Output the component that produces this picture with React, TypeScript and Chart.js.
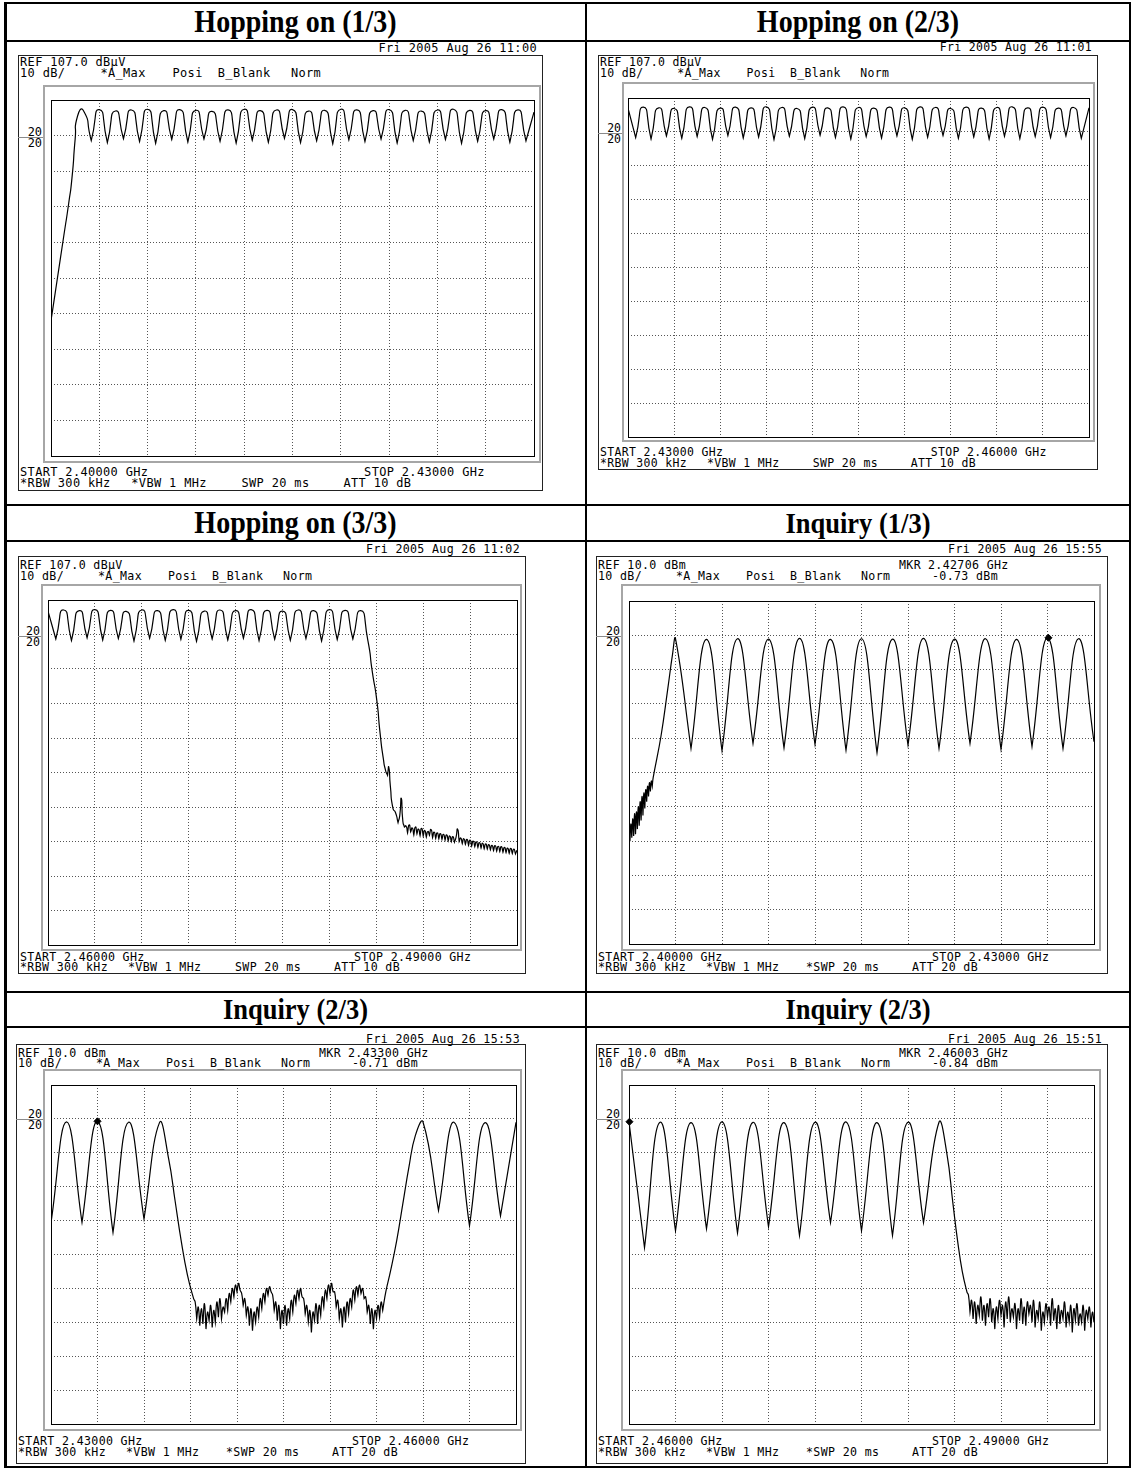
import React, { useEffect, useRef } from "react";
import { Chart, registerables } from "chart.js";

Chart.register(...registerables);

// ---------- Trace data: frequency (MHz) / level (dBµV or dBm) ----------

// Hopping on (1/3): 2.400 - 2.430 GHz, REF 107 dBµV
const hop1MHz = [
  2400, 2400.4, 2400.8, 2401.1, 2401.3, 2401.5, 2401.65,
  2402, 2402.5, 2403, 2403.5, 2404, 2404.5, 2405, 2405.5, 2406, 2406.5, 2407, 2407.5,
  2408, 2408.5, 2409, 2409.5, 2410, 2410.5, 2411, 2411.5, 2412, 2412.5, 2413, 2413.5,
  2414, 2414.5, 2415, 2415.5, 2416, 2416.5, 2417, 2417.5, 2418, 2418.5, 2419, 2419.5,
  2420, 2420.5, 2421, 2421.5, 2422, 2422.5, 2423, 2423.5, 2424, 2424.5, 2425, 2425.5,
  2426, 2426.5, 2427, 2427.5, 2428, 2428.5, 2429, 2429.5, 2430,
];
const hop1Level = [
  45, 57, 69, 78, 85, 96, 102.5,
  104.1, 95.6, 104.3, 95.0, 103.9, 96.1, 104.2, 95.3, 104.4, 94.8, 104.0, 95.9,
  104.3, 95.2, 104.1, 96.0, 103.8, 95.4, 104.2, 94.9, 104.4, 95.7, 104.0, 95.1,
  104.2, 96.2, 104.3, 95.0, 103.9, 95.5, 104.1, 94.7, 104.4, 95.8, 104.2, 95.3,
  104.0, 96.0, 104.3, 94.9, 104.1, 95.6, 103.9, 95.2, 104.2, 95.9, 104.4, 94.8,
  104.1, 95.4, 104.0, 96.0, 104.3, 95.1, 104.2, 95.5, 103.6,
];

// Hopping on (2/3): 2.430 - 2.460 GHz
const hop2MHz = [
  2430, 2430.5, 2431, 2431.5, 2432, 2432.5, 2433, 2433.5, 2434, 2434.5, 2435, 2435.5,
  2436, 2436.5, 2437, 2437.5, 2438, 2438.5, 2439, 2439.5, 2440, 2440.5, 2441, 2441.5,
  2442, 2442.5, 2443, 2443.5, 2444, 2444.5, 2445, 2445.5, 2446, 2446.5, 2447, 2447.5,
  2448, 2448.5, 2449, 2449.5, 2450, 2450.5, 2451, 2451.5, 2452, 2452.5, 2453, 2453.5,
  2454, 2454.5, 2455, 2455.5, 2456, 2456.5, 2457, 2457.5, 2458, 2458.5, 2459, 2459.5, 2460,
];
const hop2Level = [
  104.0, 95.3, 104.3, 94.9, 104.1, 95.8, 103.9, 95.1, 104.4, 95.6, 104.2, 94.8,
  104.0, 95.9, 104.3, 95.2, 104.1, 95.5, 104.4, 94.7, 104.2, 95.7, 103.9, 95.0,
  104.3, 96.0, 104.1, 95.3, 104.4, 94.9, 104.2, 95.6, 104.0, 95.2, 104.3, 95.8,
  104.1, 94.8, 104.4, 95.4, 104.2, 95.9, 103.9, 95.1, 104.3, 95.5, 104.0, 94.9,
  104.2, 95.7, 104.4, 95.0, 104.1, 95.6, 104.3, 95.3, 104.0, 95.8, 104.2, 95.1, 104.1,
];

// Hopping on (3/3): 2.460 - 2.490 GHz, band edge roll-off and noise tail
const hop3MHz = [
  2460, 2460.5, 2461, 2461.5, 2462, 2462.5, 2463, 2463.5, 2464, 2464.5, 2465, 2465.5,
  2466, 2466.5, 2467, 2467.5, 2468, 2468.5, 2469, 2469.5, 2470, 2470.5, 2471, 2471.5,
  2472, 2472.5, 2473, 2473.5, 2474, 2474.5, 2475, 2475.5, 2476, 2476.5, 2477, 2477.5,
  2478, 2478.5, 2479, 2479.5, 2480,
  2480.45, 2480.75, 2481.03, 2481.24, 2481.45, 2481.6, 2481.72, 2481.8, 2481.9, 2482.07,
  2482.22, 2482.39, 2482.5, 2482.6, 2482.7, 2482.8,
  2482.9, 2483.0, 2483.1, 2483.2, 2483.3, 2483.4, 2483.5, 2483.6, 2483.7, 2483.8,
  2483.9, 2484.0, 2484.1, 2484.2, 2484.3, 2484.4, 2484.5, 2484.6, 2484.7, 2484.8,
  2484.9, 2485.0, 2485.1, 2485.2, 2485.3, 2485.4, 2485.5, 2485.6, 2485.7, 2485.8,
  2485.9, 2486.0, 2486.1, 2486.2, 2486.3, 2486.4, 2486.5, 2486.6, 2486.7, 2486.8,
  2486.9, 2487.0, 2487.1, 2487.2, 2487.3, 2487.4, 2487.5, 2487.6, 2487.7, 2487.8,
  2487.9, 2488.0, 2488.1, 2488.2, 2488.3, 2488.4, 2488.5, 2488.6, 2488.7, 2488.8,
  2488.9, 2489.0, 2489.1, 2489.2, 2489.3, 2489.4, 2489.5, 2489.6, 2489.7, 2489.8,
  2489.9, 2490.0,
];
const hop3Level = [
  103.8, 95.7, 104.1, 95.2, 103.9, 96.0, 104.2, 95.4, 104.0, 95.8, 103.7, 95.1,
  104.1, 95.9, 103.9, 95.3, 104.2, 95.6, 104.0, 95.0, 103.8, 95.7, 104.1, 95.4,
  103.9, 95.9, 104.2, 95.2, 104.0, 95.6, 103.8, 95.3, 104.1, 95.8, 103.9, 95.1,
  104.2, 95.5, 104.0, 95.7, 103.9,
  95.5, 86, 78, 68.5, 61, 57.5, 56.2, 58.5, 53, 46.5,
  45.5, 42.5, 44.5, 49.5, 42.8, 41.2,
  41.5, 39.5, 41.8, 39.8, 40.9, 38.9, 41.2, 39.2, 40.6, 38.7,
  40.8, 38.6, 40.2, 38.3, 39.9, 38.8, 40.5, 38.1, 39.7, 37.9,
  39.5, 37.8, 39.3, 37.6, 39.1, 37.4, 38.9, 37.2, 38.6, 37.0,
  38.4, 36.8, 38.2, 40.6, 37.0, 38.0, 36.4, 37.8, 36.2, 37.6,
  35.9, 37.4, 35.7, 37.1, 35.5, 36.9, 35.3, 36.7, 35.1, 36.5,
  34.9, 36.3, 34.8, 36.1, 34.6, 35.9, 34.4, 35.8, 34.2, 35.6,
  34.1, 35.5, 33.9, 35.3, 33.8, 35.1, 33.6, 35.0, 33.5, 34.8,
  33.4, 34.5,
];

// Inquiry (1/3): 2.400 - 2.430 GHz, REF 10 dBm
const inq1MHz = [
  2400.0, 2400.06, 2400.12, 2400.18, 2400.24, 2400.3, 2400.36, 2400.42, 2400.48,
  2400.54, 2400.6, 2400.66, 2400.72, 2400.78, 2400.84, 2400.9, 2400.96, 2401.02,
  2401.08, 2401.14, 2401.2, 2401.26, 2401.32, 2401.38, 2401.44, 2401.5, 2401.56,
  2402.06, 2402.49, 2402.81,
  2403, 2404, 2405, 2406, 2407, 2408, 2409, 2410, 2411, 2412, 2413, 2414, 2415, 2416,
  2417, 2418, 2419, 2420, 2421, 2422, 2423, 2424, 2425, 2426, 2427, 2428, 2429, 2430,
];
const inq1Level = [
  -56, -60, -55, -59, -53.5, -58.5, -52, -58, -51.5,
  -56.5, -50, -55.5, -48.5, -54, -47, -52.5, -46, -50.5,
  -45, -48.5, -44, -47, -43, -45.5, -42.5, -44, -41.5,
  -29.5, -16, -5.5,
  -1.0, -33.0, -1.2, -33.6, -1.0, -31.5, -1.1, -32.8, -0.9, -31.8, -1.2, -33.5, -1.0, -34.2,
  -1.1, -32.0, -0.9, -33.0, -1.1, -31.5, -1.0, -33.2, -1.2, -32.4, -0.73, -33.0, -1.0, -31,
];
const inq1Marker = [2427.06, -0.73];

// Inquiry (2/3): 2.430 - 2.460 GHz, gap in the middle of the band
const inq2MHz = [
  2430, 2431, 2432, 2433, 2434, 2435, 2436, 2437, 2437.6, 2438, 2438.4, 2438.8, 2439.2,
  2439.3, 2439.4, 2439.5, 2439.6, 2439.7, 2439.8, 2439.9, 2440.0, 2440.1, 2440.2,
  2440.3, 2440.4, 2440.5, 2440.6, 2440.7, 2440.8, 2440.9, 2441.0, 2441.1, 2441.2,
  2441.3, 2441.4, 2441.5, 2441.6, 2441.7, 2441.8, 2441.9, 2442.0, 2442.1, 2442.2,
  2442.3, 2442.4, 2442.5, 2442.6, 2442.7, 2442.8, 2442.9, 2443.0, 2443.1, 2443.2,
  2443.3, 2443.4, 2443.5, 2443.6, 2443.7, 2443.8, 2443.9, 2444.0, 2444.1, 2444.2,
  2444.3, 2444.4, 2444.5, 2444.6, 2444.7, 2444.8, 2444.9, 2445.0, 2445.1, 2445.2,
  2445.3, 2445.4, 2445.5, 2445.6, 2445.7, 2445.8, 2445.9, 2446.0, 2446.1, 2446.2,
  2446.3, 2446.4, 2446.5, 2446.6, 2446.7, 2446.8, 2446.9, 2447.0, 2447.1, 2447.2,
  2447.3, 2447.4, 2447.5, 2447.6, 2447.7, 2447.8, 2447.9, 2448.0, 2448.1, 2448.2,
  2448.3, 2448.4, 2448.5, 2448.6, 2448.7, 2448.8, 2448.9, 2449.0, 2449.1, 2449.2,
  2449.3, 2449.4, 2449.5, 2449.6, 2449.7, 2449.8, 2449.9, 2450.0, 2450.1, 2450.2,
  2450.3, 2450.4, 2450.5, 2450.6, 2450.7, 2450.8, 2450.9, 2451.0, 2451.1, 2451.2,
  2451.3, 2451.4,
  2451.6, 2451.9, 2452.3, 2452.7, 2453.1, 2453.5,
  2454, 2455, 2456, 2457, 2458, 2459, 2460,
];
const inq2Level = [
  -30.6, -0.9, -30.5, -0.71, -33.5, -1.0, -29.5, -1.1, -12, -24, -36, -46, -53,
  -54, -59, -55.5, -61, -56, -60.5, -54.5, -62, -57, -59.5,
  -55, -61.5, -56.5, -60, -54, -58.5, -53, -59, -55.5, -57,
  -53, -56.5, -51.5, -54, -50, -52.5, -49, -51, -48.5, -50.5,
  -51.5, -55, -53, -58, -55.5, -61, -56, -62.5, -57, -60,
  -55.5, -58.5, -53, -56, -51.5, -54, -50, -52, -49.5, -51,
  -52, -56.5, -54, -59.5, -55, -62, -56.5, -60.5, -55, -61,
  -56, -59, -53.5, -57, -52, -54.5, -50.5, -53, -50, -52.5,
  -53, -57.5, -55, -60, -56.5, -63, -57, -59.5, -54.5, -60.5,
  -55, -58, -52.5, -55.5, -50.5, -53, -49, -51.5, -48.5, -51,
  -51, -55.5, -53.5, -59, -56, -61.5, -55.5, -60, -54, -57.5,
  -53, -55.5, -50.5, -53.5, -49.5, -52, -49, -51.5, -50, -53,
  -52.5, -57, -55, -60.5, -56, -62, -56.5, -59, -55, -58.5,
  -54, -56.5,
  -51, -45, -36, -25, -14, -5,
  -0.9, -27, -1.0, -31.5, -1.1, -28.6, -1.0,
];
const inq2Marker = [2433.0, -0.71];

// Inquiry (2/3), upper band: 2.460 - 2.490 GHz
const inq3MHz = [
  2460, 2461, 2462, 2463, 2464, 2465, 2466, 2467, 2468, 2469, 2470,
  2471, 2472, 2473, 2474, 2475, 2476, 2477, 2478, 2479, 2480,
  2480.5, 2480.9, 2481.2, 2481.5, 2481.8,
  2481.9, 2482.0, 2482.1, 2482.2, 2482.3, 2482.4, 2482.5, 2482.6, 2482.7, 2482.8,
  2482.9, 2483.0, 2483.1, 2483.2, 2483.3, 2483.4, 2483.5, 2483.6, 2483.7, 2483.8,
  2483.9, 2484.0, 2484.1, 2484.2, 2484.3, 2484.4, 2484.5, 2484.6, 2484.7, 2484.8,
  2484.9, 2485.0, 2485.1, 2485.2, 2485.3, 2485.4, 2485.5, 2485.6, 2485.7, 2485.8,
  2485.9, 2486.0, 2486.1, 2486.2, 2486.3, 2486.4, 2486.5, 2486.6, 2486.7, 2486.8,
  2486.9, 2487.0, 2487.1, 2487.2, 2487.3, 2487.4, 2487.5, 2487.6, 2487.7, 2487.8,
  2487.9, 2488.0, 2488.1, 2488.2, 2488.3, 2488.4, 2488.5, 2488.6, 2488.7, 2488.8,
  2488.9, 2489.0, 2489.1, 2489.2, 2489.3, 2489.4, 2489.5, 2489.6, 2489.7, 2489.8,
  2489.9, 2490.0,
];
const inq3Level = [
  -0.84, -38, -1.0, -33, -1.1, -32.4, -0.9, -33.6, -1.0, -31.8, -1.1,
  -34.4, -1.0, -30.6, -0.9, -33, -1.1, -34.4, -1.0, -30.6, -1.0,
  -10, -25, -36, -45, -51,
  -52, -57, -53.5, -59, -54, -60.5, -55, -58, -52.5, -59.5,
  -55, -61, -54.5, -58.5, -53, -60, -56, -62, -55.5, -59,
  -53.5, -58, -55, -61.5, -54, -59, -52.5, -60, -56, -58.5,
  -54.5, -62, -56, -59.5, -53, -60.5, -55.5, -61, -54, -57.5,
  -55, -60, -53.5, -61.5, -56.5, -59, -54, -62.5, -57, -60,
  -54.5, -58.5, -55.5, -61, -53, -59.5, -56, -62, -55, -60.5,
  -56.5, -59, -54, -61.5, -57, -60, -55, -63, -56, -59.5,
  -54.5, -61, -57.5, -60, -55, -62.5, -56.5, -59, -55.5, -61.5,
  -57, -60,
];
const inq3Marker = [2460.03, -0.84];

// ---------- Layout ----------
type Rect = { l: number; t: number; r: number; b: number };
type Rows = { date: number; ref: number; div: number; start: number; rbw: number };
type PanelSpec = {
  box: Rect; bezel: Rect; grid: Rect; s: number; rows: Rows; tension: number;
  date: string; refText: string; mkr?: [string, string];
  startText: string; stopText: string; swpText: string; attText: string;
  span: [number, number]; refLevel: number;
  mhz: number[]; level: number[]; marker?: number[];
};

const rowsTop: Rows = { date: 48, ref: 62, div: 73, start: 472, rbw: 483 };
const rowsMid: Rows = { date: 549, ref: 565, div: 576, start: 957, rbw: 967 };
const rowsLow: Rows = { date: 1039, ref: 1053, div: 1063, start: 1441, rbw: 1452 };

const panels: PanelSpec[] = [
  {
    box: { l: 18, t: 55, r: 543, b: 491 }, bezel: { l: 43, t: 85, r: 541, b: 463 },
    grid: { l: 51, t: 100, r: 534, b: 456 }, s: 1.03, rows: rowsTop, tension: 0.75,
    date: "Fri 2005 Aug 26 11:00", refText: "REF 107.0 dBµV",
    startText: "START 2.40000 GHz", stopText: "STOP 2.43000 GHz", swpText: "SWP 20 ms", attText: "ATT 10 dB",
    span: [2400, 2430], refLevel: 107, mhz: hop1MHz, level: hop1Level,
  },
  {
    box: { l: 598, t: 55, r: 1098, b: 470 }, bezel: { l: 622, t: 82, r: 1095, b: 442 },
    grid: { l: 628, t: 98, r: 1089, b: 437 }, s: 0.99, rows: { date: 47, ref: 62, div: 73, start: 452, rbw: 463 }, tension: 0.75,
    date: "Fri 2005 Aug 26 11:01", refText: "REF 107.0 dBµV",
    startText: "START 2.43000 GHz", stopText: "STOP 2.46000 GHz", swpText: "SWP 20 ms", attText: "ATT 10 dB",
    span: [2430, 2460], refLevel: 107, mhz: hop2MHz, level: hop2Level,
  },
  {
    box: { l: 18, t: 556, r: 526, b: 974 }, bezel: { l: 41, t: 584, r: 522, b: 951 },
    grid: { l: 48, t: 600, r: 517, b: 945 }, s: 1, rows: rowsMid, tension: 0.75,
    date: "Fri 2005 Aug 26 11:02", refText: "REF 107.0 dBµV",
    startText: "START 2.46000 GHz", stopText: "STOP 2.49000 GHz", swpText: "SWP 20 ms", attText: "ATT 10 dB",
    span: [2460, 2490], refLevel: 107, mhz: hop3MHz, level: hop3Level,
  },
  {
    box: { l: 596, t: 556, r: 1108, b: 974 }, bezel: { l: 621, t: 584, r: 1101, b: 951 },
    grid: { l: 628, t: 600, r: 1095, b: 945 }, s: 1, rows: rowsMid, tension: 0.45,
    date: "Fri 2005 Aug 26 15:55", refText: "REF 10.0 dBm", mkr: ["2.42706 GHz", "-0.73 dBm"],
    startText: "START 2.40000 GHz", stopText: "STOP 2.43000 GHz", swpText: "*SWP 20 ms", attText: "ATT 20 dB",
    span: [2400, 2430], refLevel: 10, mhz: inq1MHz, level: inq1Level, marker: inq1Marker,
  },
  {
    box: { l: 16, t: 1044, r: 526, b: 1464 }, bezel: { l: 43, t: 1069, r: 522, b: 1431 },
    grid: { l: 50, t: 1084, r: 517, b: 1425 }, s: 1, rows: rowsLow, tension: 0.45,
    date: "Fri 2005 Aug 26 15:53", refText: "REF 10.0 dBm", mkr: ["2.43300 GHz", "-0.71 dBm"],
    startText: "START 2.43000 GHz", stopText: "STOP 2.46000 GHz", swpText: "*SWP 20 ms", attText: "ATT 20 dB",
    span: [2430, 2460], refLevel: 10, mhz: inq2MHz, level: inq2Level, marker: inq2Marker,
  },
  {
    box: { l: 596, t: 1044, r: 1108, b: 1464 }, bezel: { l: 621, t: 1069, r: 1101, b: 1431 },
    grid: { l: 628, t: 1084, r: 1095, b: 1425 }, s: 1, rows: rowsLow, tension: 0.45,
    date: "Fri 2005 Aug 26 15:51", refText: "REF 10.0 dBm", mkr: ["2.46003 GHz", "-0.84 dBm"],
    startText: "START 2.46000 GHz", stopText: "STOP 2.49000 GHz", swpText: "*SWP 20 ms", attText: "ATT 20 dB",
    span: [2460, 2490], refLevel: 10, mhz: inq3MHz, level: inq3Level, marker: inq3Marker,
  },
];

const titles = [
  { text: "Hopping on (1/3)", x0: 6, x1: 585, y0: 4, y1: 40, size: 28 },
  { text: "Hopping on (2/3)", x0: 587, x1: 1129, y0: 4, y1: 40, size: 28 },
  { text: "Hopping on (3/3)", x0: 6, x1: 585, y0: 506, y1: 540, size: 28 },
  { text: "Inquiry (1/3)", x0: 587, x1: 1129, y0: 506, y1: 540, size: 26.5 },
  { text: "Inquiry (2/3)", x0: 6, x1: 585, y0: 993, y1: 1026, size: 26.5 },
  { text: "Inquiry (2/3)", x0: 587, x1: 1129, y0: 993, y1: 1026, size: 26.5 },
];

// table rules: [left, top, width, height]
const rules = [
  [4, 2, 1127, 2], [4, 1466, 1127, 2],
  [4, 2, 3, 1466], [1129, 2, 2, 1466], [585, 2, 2, 1466],
  [4, 40, 1127, 2], [4, 504, 1127, 2], [4, 540, 1127, 2],
  [4, 991, 1127, 2], [4, 1026, 1127, 2],
];

const PAD = 4;
const GRID_COLOR = "#555";

function buildPoints(mhz: number[], level: number[]) {
  const n = Math.min(mhz.length, level.length);
  const pts: { x: number; y: number }[] = [];
  for (let i = 0; i < n; i++) {
    pts.push({ x: mhz[i], y: level[i] });
    // a doubled point keeps each valley a sharp notch under the spline
    if (i > 0 && i < n - 1 && level[i] < level[i - 1] && level[i] < level[i + 1]) {
      pts.push({ x: mhz[i], y: level[i] });
    }
  }
  return pts;
}

const framePlugin = {
  id: "gridFrame",
  beforeDatasetsDraw(chart: any) {
    const { ctx, chartArea: a } = chart;
    ctx.save();
    ctx.strokeStyle = "#000";
    ctx.lineWidth = 1;
    ctx.strokeRect(Math.round(a.left) + 0.5, Math.round(a.top) + 0.5, Math.round(a.right - a.left), Math.round(a.bottom - a.top));
    ctx.restore();
  },
};

function TraceChart({ p }: { p: PanelSpec }) {
  const ref = useRef<HTMLCanvasElement>(null);
  const gw = p.grid.r - p.grid.l;
  const gh = p.grid.b - p.grid.t;
  useEffect(() => {
    const canvas = ref.current;
    if (!canvas) return;
    const [x0, x1] = p.span;
    const yMin = p.refLevel - 100;
    const xTicks = Array.from({ length: 11 }, (_, i) => x0 + ((x1 - x0) * i) / 10);
    const yTicks = Array.from({ length: 11 }, (_, i) => yMin + 10 * i);
    const datasets: any[] = [
      {
        data: buildPoints(p.mhz, p.level),
        borderColor: "#000",
        borderWidth: 1.2,
        pointRadius: 0,
        tension: p.tension,
        fill: false,
      },
    ];
    if (p.marker) {
      datasets.push({
        data: [{ x: p.marker[0], y: p.marker[1] }],
        showLine: false,
        pointStyle: "rectRot",
        pointRadius: 3.5,
        backgroundColor: "#000",
        borderColor: "#000",
        clip: false,
      });
    }
    const axis = (min: number, max: number, ticks: number[]) => ({
      type: "linear",
      min,
      max,
      afterBuildTicks: (sc: any) => {
        sc.ticks = ticks.map((value) => ({ value }));
      },
      ticks: { display: false },
      grid: { color: GRID_COLOR, lineWidth: 1, drawTicks: false },
      border: { display: false, dash: [1, 2] },
    });
    const chart = new Chart(canvas, {
      type: "line",
      data: { datasets },
      options: {
        animation: false,
        responsive: false,
        maintainAspectRatio: false,
        events: [],
        layout: { padding: PAD },
        plugins: { legend: { display: false }, tooltip: { enabled: false } },
        scales: {
          x: axis(x0, x1, xTicks) as any,
          y: axis(yMin, p.refLevel, yTicks) as any,
        },
      },
      plugins: [framePlugin],
    });
    return () => chart.destroy();
  }, [p]);
  return (
    <canvas
      ref={ref}
      width={gw + 2 * PAD}
      height={gh + 2 * PAD}
      style={{ position: "absolute", left: p.grid.l - PAD, top: p.grid.t - PAD, width: gw + 2 * PAD, height: gh + 2 * PAD }}
    />
  );
}

const monoBase: React.CSSProperties = {
  position: "absolute",
  fontFamily: '"DejaVu Sans Mono", monospace',
  lineHeight: "12px",
  whiteSpace: "pre",
  color: "#000",
};

function Txt({ x, y, s, children }: { x: number; y: number; s: number; children: React.ReactNode }) {
  return (
    <div style={{ ...monoBase, left: x, top: y - 6, fontSize: 11.6 * s, letterSpacing: 0.35 * s }}>{children}</div>
  );
}

function Panel({ p }: { p: PanelSpec }) {
  const { box, bezel, grid, s, rows } = p;
  const X = (o: number) => box.l + o * s;
  const twentyY = grid.t + (grid.b - grid.t) / 10;
  return (
    <>
      <div
        style={{
          position: "absolute", left: box.l, top: box.t, width: box.r - box.l, height: box.b - box.t,
          border: "1px solid #222", boxSizing: "border-box",
        }}
      />
      <div
        style={{
          position: "absolute", left: bezel.l, top: bezel.t, width: bezel.r - bezel.l, height: bezel.b - bezel.t,
          border: "2px solid #a6a6a6", boxSizing: "border-box",
        }}
      />
      <div style={{ position: "absolute", left: box.l, top: Math.round(twentyY) + 1, width: bezel.l - box.l, height: 1, background: "#8a8a8a" }} />
      <div style={{ ...monoBase, right: 1133 - (bezel.l - 1), top: twentyY - 10, fontSize: 11.6 * s }}>20</div>
      <div style={{ ...monoBase, right: 1133 - (bezel.l - 1), top: twentyY + 1, fontSize: 11.6 * s }}>20</div>

      <div style={{ ...monoBase, right: 1133 - (box.r - 6), top: rows.date - 6, fontSize: 11.6 * s, letterSpacing: 0.35 * s }}>{p.date}</div>

      <Txt x={X(2)} y={rows.ref} s={s}>{p.refText}</Txt>
      <Txt x={X(2)} y={rows.div} s={s}>10 dB/</Txt>
      <Txt x={X(80)} y={rows.div} s={s}>*A_Max</Txt>
      <Txt x={X(150)} y={rows.div} s={s}>Posi</Txt>
      <Txt x={X(194)} y={rows.div} s={s}>B_Blank</Txt>
      <Txt x={X(265)} y={rows.div} s={s}>Norm</Txt>
      {p.mkr && (
        <>
          <Txt x={X(303)} y={rows.ref} s={s}>MKR</Txt>
          <Txt x={X(332)} y={rows.ref} s={s}>{p.mkr[0]}</Txt>
          <Txt x={X(336)} y={rows.div} s={s}>{p.mkr[1]}</Txt>
        </>
      )}

      <TraceChart p={p} />

      <Txt x={X(2)} y={rows.start} s={s}>{p.startText}</Txt>
      <Txt x={X(336)} y={rows.start} s={s}>{p.stopText}</Txt>
      <Txt x={X(2)} y={rows.rbw} s={s}>*RBW 300 kHz</Txt>
      <Txt x={X(110)} y={rows.rbw} s={s}>*VBW 1 MHz</Txt>
      <Txt x={X(p.swpText.startsWith("*") ? 210 : 217)} y={rows.rbw} s={s}>{p.swpText}</Txt>
      <Txt x={X(316)} y={rows.rbw} s={s}>{p.attText}</Txt>
    </>
  );
}

export default function App() {
  return (
    <div style={{ position: "absolute", left: 0, top: 0, width: 1133, height: 1469, background: "#fff", overflow: "hidden" }}>
      {rules.map(([l, t, w, h], i) => (
        <div key={"r" + i} style={{ position: "absolute", left: l, top: t, width: w, height: h, background: "#000" }} />
      ))}
      {titles.map((t, i) => (
        <div
          key={"t" + i}
          style={{
            position: "absolute", left: t.x0, top: t.y0, width: t.x1 - t.x0, height: t.y1 - t.y0,
            lineHeight: `${t.y1 - t.y0}px`, textAlign: "center",
            fontFamily: '"Liberation Serif", "Times New Roman", serif', fontWeight: 700, fontSize: t.size, color: "#000",
            transform: "scaleY(1.1)",
          }}
        >
          {t.text}
        </div>
      ))}
      {panels.map((p, i) => (
        <Panel key={"p" + i} p={p} />
      ))}
    </div>
  );
}
